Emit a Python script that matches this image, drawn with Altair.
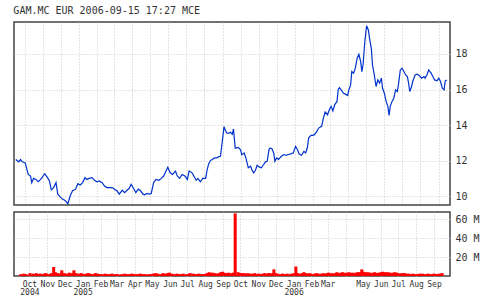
import altair as alt
import pandas as pd

TITLE = "GAM.MC EUR 2006-09-15 17:27 MCE"
MONO = "DejaVu Sans Mono"
TEXT = "#333333"

# days since 2004-09-13 for each reading
day_offsets = [
    3, 8, 11, 14, 19, 24, 28, 30, 33, 37,
    41, 45, 48, 52, 56, 60, 63, 67, 71, 74,
    78, 82, 87, 91, 95, 99, 104, 108, 112, 116,
    120, 123, 127, 132, 136, 140, 144, 149, 153, 157,
    161, 166, 170, 174, 178, 183, 187, 191, 195, 198,
    202, 206, 210, 214, 218, 221, 225, 229, 232, 236,
    240, 245, 249, 253, 257, 260, 264, 268, 273, 276,
    280, 284, 289, 293, 296, 301, 304, 308, 311, 315,
    319, 324, 326, 329, 332, 335, 339, 343, 346, 349,
    352, 355, 357, 360, 363, 366, 369, 371, 374, 379,
    383, 385,
    389, 392, 396, 400, 402, 405, 408, 411, 415, 418,
    422, 425, 428, 431, 433, 436, 439, 441, 444, 447,
    452, 456, 460, 464, 469, 472, 476, 479, 482, 486,
    490, 493, 496, 498, 502, 505, 508, 512, 515, 520,
    523, 526, 530, 533, 536, 539, 542, 546, 548, 550,
    553, 557, 560, 564, 566, 569, 571, 574, 577, 580,
    583, 586, 588, 590, 593, 596, 599, 601, 604, 606,
    609, 612, 615, 618, 621, 623, 626, 629, 632, 634,
    636, 639, 642, 645, 648, 650, 653, 656, 659, 662,
    665, 667, 669, 672, 674, 678, 681, 685, 689, 693,
    695, 698, 701, 705, 708, 711, 715, 718, 721, 724,
    727, 729, 732,
]

price = [
    12.06, 11.93, 12.06, 11.93, 11.87, 11.22, 11.13, 10.76, 11.00, 10.94,
    10.81, 10.94, 11.07, 11.26, 11.07, 10.85, 10.35, 10.48, 10.76, 10.11,
    9.96, 9.83, 9.74, 9.56, 10.02, 10.30, 10.39, 10.70, 10.63, 10.76,
    11.04, 10.94, 11.00, 11.04, 10.89, 10.81, 10.85, 10.76, 10.57, 10.48,
    10.48, 10.48, 10.39, 10.30, 10.11, 10.33, 10.20, 10.33, 10.44, 10.67,
    10.44, 10.20, 10.39, 10.30, 10.11, 10.07, 10.15, 10.11, 10.15, 10.76,
    10.94, 10.89, 11.00, 11.13, 11.41, 11.63, 11.31, 11.22, 11.41, 11.13,
    11.00, 11.22, 11.13, 10.94, 11.41, 11.31, 11.13, 10.89, 11.00, 10.81,
    11.00, 11.00, 11.41, 11.81, 12.00, 12.06, 12.15, 12.15, 12.22, 12.24,
    13.07, 13.91, 13.72, 13.54, 13.54, 13.59, 13.48, 13.78, 12.70, 12.74,
    12.61, 12.33,
    12.43, 12.15, 11.59, 11.68, 11.50, 11.31, 11.44, 11.74, 11.63, 11.59,
    11.78, 11.93, 11.96, 12.62, 12.71, 12.67, 12.43, 11.96, 12.15, 12.06,
    12.24, 12.34, 12.30, 12.34, 12.39, 12.43, 12.80, 12.62, 12.37, 12.30,
    12.52, 12.43, 12.75, 13.27, 13.42, 13.42, 13.46, 13.64, 13.83, 13.93,
    14.39, 14.73, 14.58, 14.86, 15.05, 14.80, 15.14, 15.33, 15.98, 16.11,
    15.98, 15.79, 15.74, 15.66, 15.98, 16.26, 17.01, 16.92, 17.20, 17.76,
    17.98, 17.57, 17.01, 17.38, 18.69, 19.59, 19.35, 18.88, 18.32, 17.38,
    16.82, 16.17, 16.54, 16.36, 16.64, 16.07, 15.79, 15.33, 15.05, 14.54,
    15.05, 15.33, 15.51, 15.98, 15.89, 16.30, 17.10, 17.20, 17.01, 16.82,
    16.73, 16.36, 15.89, 16.17, 16.45, 16.82, 16.86, 16.79, 16.64, 16.73,
    16.64, 16.82, 17.10, 16.92, 16.73, 16.54, 16.49, 16.64, 16.45, 16.07,
    15.98, 16.49, 16.54,
]

# volume in millions of shares
volume_m = [
    2, 2.5, 2, 1.5, 3, 2.5, 2, 3, 2, 2.5,
    2, 3, 2.5, 2, 3, 9.5, 4, 3, 2.5, 6,
    3, 2.5, 3.5, 3, 6, 3, 2.5, 3, 2, 2.5,
    3, 2.5, 2, 3, 2.5, 2, 2, 2.5, 2, 2,
    2.5, 2, 2, 1.5, 2, 2.5, 2, 2, 2.5, 2,
    2, 2, 2.5, 2, 2, 1.5, 2, 2, 2.5, 3,
    2.5, 2, 3, 2.5, 3, 3.5, 2.5, 2, 2.5, 2,
    2, 2.5, 2, 2, 3, 2.5, 2, 2, 2.5, 2,
    2, 2.5, 3, 4, 3, 3.5, 3, 2.5, 3, 4,
    4.5, 3.5, 3, 3, 3.5, 2.5, 3, 3.5, 66, 4,
    3, 3,
    3, 2.5, 3, 2.5, 2, 2.5, 3, 2, 2.5, 2,
    2.5, 3, 2, 3, 3, 2.5, 3, 7, 3, 2.5,
    2, 2.5, 2, 2.5, 2, 2.5, 3, 10, 3, 2.5,
    3, 4, 3, 2.5, 3, 2.5, 2, 2.5, 3, 2.5,
    2, 3, 2.5, 3, 3.5, 2.5, 3, 2.5, 3, 4,
    3, 3.5, 4, 3, 3.5, 3, 4, 3, 3.5, 3,
    3.5, 4, 3.5, 4, 7, 4.5, 4, 3.5, 4, 3,
    3.5, 3, 4, 3, 3.5, 3, 4, 4.5, 3.5, 4,
    3, 4, 3, 3.5, 3, 4, 3.5, 3, 2.5, 3,
    2.5, 3, 2.5, 2, 2.5, 2, 2.5, 2, 2, 2.5,
    2, 2.5, 2, 2, 2.5, 2, 2, 2.5, 2, 2,
    2.5, 2, 3,
]

price_ticks = [10, 12, 14, 16, 18]
volume_ticks = [20, 40, 60]

start = pd.Timestamp("2004-09-13")
df = pd.DataFrame({
    "date": start + pd.to_timedelta(day_offsets, unit="D"),
    "price": price,
    "volume": volume_m,
})

month_starts = pd.date_range("2004-10-01", "2006-09-01", freq="MS")
month_ticks = [alt.DateTime(year=int(d.year), month=int(d.month), date=1) for d in month_starts]

xscale = alt.Scale(domain=[alt.DateTime(year=2004, month=9, date=13),
                           alt.DateTime(year=2006, month=9, date=20)])

grid = dict(grid=True, gridColor="#c8c8c8", gridDash=[1, 2], gridWidth=1,
            ticks=False, domain=False, title=None)

label_expr = (
    "(month(datum.value) == 0 || (year(datum.value) == 2004 && month(datum.value) == 9)) ? "
    "[timeFormat(datum.value, '%b'), timeFormat(datum.value, '%Y')] : "
    "((year(datum.value) == 2006 && month(datum.value) == 3) ? '' : timeFormat(datum.value, '%b'))"
)

top = alt.Chart(df).mark_line(color="#0033cc", strokeWidth=1.2).encode(
    x=alt.X("date:T", scale=xscale,
            axis=alt.Axis(values=month_ticks, labels=False, **grid)),
    y=alt.Y("price:Q", scale=alt.Scale(domain=[9.5, 19.8], nice=False, zero=False),
            axis=alt.Axis(orient="right", values=price_ticks, labelFont=MONO,
                          labelFontSize=10, labelColor=TEXT, labelPadding=5, **grid)),
).properties(
    width=436, height=183,
    title=alt.TitleParams(TITLE, anchor="start", font=MONO, fontSize=10,
                          fontWeight="normal", color=TEXT, offset=6),
)

bottom = alt.Chart(df).mark_bar(color="#ff0000", size=3).encode(
    x=alt.X("date:T", scale=xscale,
            axis=alt.Axis(values=month_ticks, labelExpr=label_expr, labelFont=MONO,
                          labelFontSize=8, labelColor=TEXT, labelPadding=4,
                          labelLineHeight=8, labelOverlap=False, labelFlush=False, **grid)),
    y=alt.Y("volume:Q", scale=alt.Scale(domain=[0, 67.5], nice=False),
            axis=alt.Axis(orient="right", values=volume_ticks,
                          labelExpr="datum.value + ' M'", labelFont=MONO,
                          labelFontSize=10, labelColor=TEXT, labelPadding=5, **grid)),
).properties(width=436, height=64)

chart = alt.vconcat(top, bottom, spacing=3).properties(
    padding={"left": 12, "top": 5, "right": 0, "bottom": 0},
    background="white",
).configure_view(stroke="#444444", strokeWidth=1.5)

chart.save("out.html", embed_options={"renderer": "svg", "actions": False})
